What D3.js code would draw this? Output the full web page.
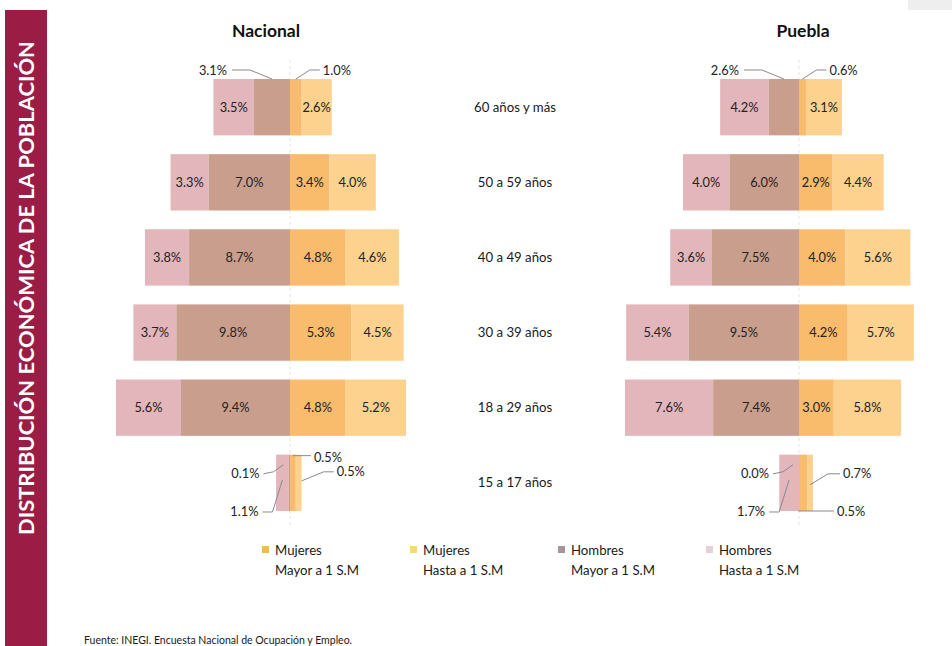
<!DOCTYPE html>
<html>
<head>
<meta charset="utf-8">
<script src="https://cdn.jsdelivr.net/npm/d3@7"></script>
<style>
  html, body { margin: 0; padding: 0; background: #fff; }
  svg { display: block; font-family: Lato, "Open Sans", sans-serif; }
</style>
</head>
<body>
<svg id="chart" width="952" height="646"></svg>
<script>
var ages = ["60 años y más", "50 a 59 años", "40 a 49 años", "30 a 39 años", "18 a 29 años", "15 a 17 años"]

var nacHombresHasta = [3.5, 3.3, 3.8, 3.7, 5.6, 1.1]
var nacHombresMayor = [3.1, 7.0, 8.7, 9.8, 9.4, 0.1]
var nacMujeresMayor = [1.0, 3.4, 4.8, 5.3, 4.8, 0.5]
var nacMujeresHasta = [2.6, 4.0, 4.6, 4.5, 5.2, 0.5]

var pueHombresHasta = [4.2, 4.0, 3.6, 5.4, 7.6, 1.7]
var pueHombresMayor = [2.6, 6.0, 7.5, 9.5, 7.4, 0.0]
var pueMujeresMayor = [0.6, 2.9, 4.0, 4.2, 3.0, 0.7]
var pueMujeresHasta = [3.1, 4.4, 5.6, 5.7, 5.8, 0.5]

var legendNames = ["Mujeres|Mayor a 1 S.M", "Mujeres|Hasta a 1 S.M", "Hombres|Mayor a 1 S.M", "Hombres|Hasta a 1 S.M"]

var colors = {hh: "#e3b6bb", hm: "#c99e8d", mm: "#f9bb6c", mh: "#fcd28e"}
var legendColors = ["#e9bc55", "#f0dc70", "#a8959c", "#e6d0d8"]

var svg = d3.select("#chart")

// side band
svg.append("rect").attr("x", 5).attr("y", 10).attr("width", 42).attr("height", 636).attr("fill", "#9b1d45")
svg.append("text")
    .attr("transform", "translate(34,288) rotate(-90)")
    .attr("text-anchor", "middle")
    .attr("fill", "#fff")
    .attr("font-weight", "bold")
    .attr("font-size", 20)
    .attr("textLength", 494)
    .attr("lengthAdjust", "spacingAndGlyphs")
    .text("DISTRIBUCIÓN ECONÓMICA DE LA POBLACIÓN")
svg.append("rect").attr("x", 908).attr("y", 0).attr("width", 44).attr("height", 10).attr("fill", "#eeeeee")

var y = d3.scaleBand().domain(ages).range([70, 520]).paddingInner(0.25).paddingOuter(0.12)
var pxPerPct = 11.6

function pyramid(title, cx, hh, hm, mm, mh, small) {
    var g = svg.append("g")
    var xr = d3.scaleLinear().domain([0, 10]).range([cx, cx + 10 * pxPerPct])
    var xl = d3.scaleLinear().domain([0, 10]).range([cx, cx - 10 * pxPerPct])

    g.append("text").attr("x", title == "Nacional" ? cx - 24 : cx + 4).attr("y", 37)
        .attr("text-anchor", "middle").attr("font-weight", "bold").attr("font-size", 17.5)
        .attr("fill", "#111").text(title)

    g.append("line").attr("x1", cx).attr("x2", cx).attr("y1", 60).attr("y2", 525)
        .attr("stroke", "#e4e4e4").attr("stroke-dasharray", "3,3")

    var rows = ages.map(function(a, i) {
        return {age: a, i: i, segs: [
            {k: "hh", x0: xl(hm[i]), x1: xl(hm[i] + hh[i]), v: hh[i]},
            {k: "hm", x0: xl(0), x1: xl(hm[i]), v: hm[i]},
            {k: "mm", x0: xr(0), x1: xr(mm[i]), v: mm[i]},
            {k: "mh", x0: xr(mm[i]), x1: xr(mm[i] + mh[i]), v: mh[i]}
        ]}
    })

    var row = g.selectAll("g.row").data(rows).join("g").attr("class", "row")
    row.selectAll("rect").data(function(d) { return d.segs }).join("rect")
        .attr("x", function(s) { return Math.min(s.x0, s.x1) })
        .attr("width", function(s) { return Math.abs(s.x1 - s.x0) })
        .attr("y", function(s, j, n) { return y(d3.select(n[j].parentNode).datum().age) })
        .attr("height", y.bandwidth())
        .attr("fill", function(s) { return colors[s.k] })

    // inside labels
    rows.forEach(function(r) {
        var cy = y(r.age) + y.bandwidth() / 2
        r.segs.forEach(function(s) {
            var inside = r.i < 5 && !(r.i == 0 && (s.k == "hm" || s.k == "mm"))
            if (!inside) return
            g.append("text").attr("x", (s.x0 + s.x1) / 2).attr("y", cy + 4.5)
                .attr("text-anchor", "middle").attr("font-size", 12.8).attr("fill", "#222")
                .text(s.v.toFixed(1) + "%")
        })
    })

    function callout(pts, tx, ty, anchor, v) {
        g.append("path").attr("d", d3.line()(pts)).attr("fill", "none")
            .attr("stroke", "#8a8a8a").attr("stroke-width", 1)
        g.append("text").attr("x", tx).attr("y", ty + 4.5).attr("text-anchor", anchor)
            .attr("font-size", 12.8).attr("fill", "#222").text(v.toFixed(1) + "%")
    }

    // top row: inner segments called out above
    var top = y(ages[0])
    var m1 = (xl(0) + xl(hm[0])) / 2
    callout([[m1 - 40, top - 9], [m1 - 22, top - 9], [m1, top]], m1 - 45, top - 9, "end", hm[0])
    var m2 = (xr(0) + xr(mm[0])) / 2
    callout([[m2 + 24, top - 9], [m2 + 14, top - 9], [m2, top]], m2 + 27, top - 9, "start", mm[0])

    // bottom row: everything called out
    var b = y(ages[5]), bh = y.bandwidth(), cy5 = b + bh / 2
    var hmMid = (xl(0) + xl(hm[5])) / 2 - 2
    var hhMid = (xl(hm[5]) + xl(hm[5] + hh[5])) / 2
    var mmMid = (xr(0) + xr(mm[5])) / 2
    var mhMid = (xr(mm[5]) + xr(mm[5] + mh[5])) / 2
    callout([[hmMid - 24, cy5 - 9], [hmMid - 14, cy5 - 11], [hmMid - 4, cy5 - 18]], hmMid - 28, cy5 - 9, "end", hm[5])
    callout([[hhMid - 20, b + bh + 1], [hhMid - 10, b + bh + 1], [hhMid, cy5 - 3]], hhMid - 24, b + bh + 1, "end", hh[5])
    if (small) {
        callout([[mmMid, b + 1], [mmMid + 18, b + 1]], mmMid + 21, b + 3, "start", mm[5])
        callout([[mhMid + 35, cy5 - 11], [mhMid + 25, cy5 - 11], [mhMid + 3, cy5 - 2]], mhMid + 38, cy5 - 11, "start", mh[5])
    } else {
        callout([[mhMid + 30, cy5 - 9], [mhMid + 18, cy5 - 9], [mhMid, cy5 + 2]], mhMid + 33, cy5 - 9, "start", mm[5])
        callout([[mmMid - 5, b + bh], [mmMid + 31, b + bh]], mmMid + 34, b + bh + 1, "start", mh[5])
    }
}

pyramid("Nacional", 290, nacHombresHasta, nacHombresMayor, nacMujeresMayor, nacMujeresHasta, true)
pyramid("Puebla", 799, pueHombresHasta, pueHombresMayor, pueMujeresMayor, pueMujeresHasta, false)

// age labels
svg.selectAll("text.age").data(ages).join("text").attr("class", "age")
    .attr("x", 515).attr("y", function(d) { return y(d) + y.bandwidth() / 2 + 4.5 })
    .attr("text-anchor", "middle").attr("font-size", 13.2).attr("fill", "#1a1a1a")
    .text(function(d) { return d })

// legend
var lx = d3.scalePoint().domain(legendNames).range([262, 706])
var lg = svg.selectAll("g.leg").data(legendNames).join("g").attr("class", "leg")
    .attr("transform", function(d) { return "translate(" + lx(d) + ",0)" })
lg.append("rect").attr("x", 0).attr("y", 546).attr("width", 7).attr("height", 7)
    .attr("fill", function(d, i) { return legendColors[i] })
lg.append("text").attr("x", 13).attr("y", 555).attr("font-size", 13.2).attr("fill", "#1a1a1a")
    .text(function(d) { return d.split("|")[0] })
lg.append("text").attr("x", 13).attr("y", 575).attr("font-size", 13.2).attr("fill", "#1a1a1a")
    .text(function(d) { return d.split("|")[1] })

svg.append("text").attr("x", 84).attr("y", 644).attr("font-size", 10.5).attr("fill", "#1a1a1a")
    .text("Fuente: INEGI. Encuesta Nacional de Ocupación y Empleo.")
</script>
</body>
</html>
